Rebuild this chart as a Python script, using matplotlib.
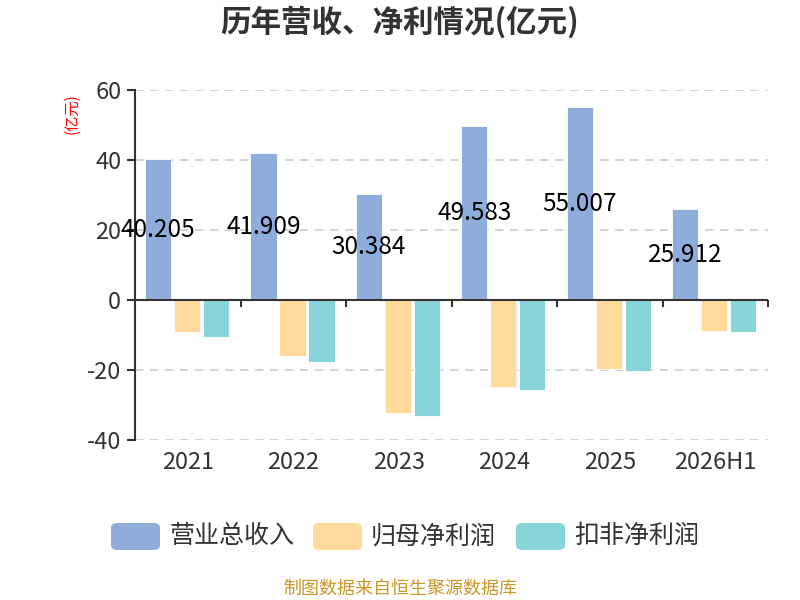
import matplotlib
matplotlib.use("Agg")
import matplotlib.pyplot as plt
from matplotlib.patches import FancyBboxPatch
import numpy as np

plt.rcParams['font.family'] = ['Noto Sans CJK SC', 'DejaVu Sans']

categories = ["2021", "2022", "2023", "2024", "2025", "2026H1"]
revenue = [40.205, 41.909, 30.384, 49.583, 55.007, 25.912]
net_profit = [-9.2, -15.9, -32.3, -25.0, -19.6, -8.9]
deducted_profit = [-10.6, -17.6, -33.2, -25.7, -20.3, -9.1]
series_names = ["营业总收入", "归母净利润", "扣非净利润"]
yticks = [-40, -20, 0, 20, 40, 60]

colors = ["#8EADDB", "#FFDA9B", "#88D5D9"]
text_color = "#333333"

fig = plt.figure(figsize=(8, 6), dpi=100)
ax = fig.add_axes([0.169, 0.2667, 0.791, 0.5833])

x = np.arange(len(categories))
w = 0.25
step = 0.275
for i, (vals, c) in enumerate(zip([revenue, net_profit, deducted_profit], colors)):
    ax.bar(x + (i - 1) * step - 0.01, vals, width=w, color=c, edgecolor="white",
           linewidth=0.6, zorder=3)

for xi, v in zip(x, revenue):
    ax.text(xi - step - 0.01, v / 2, f"{v:.3f}", ha="center", va="center",
            fontsize=17.5, color="black", zorder=5)

ax.set_xlim(-0.5, len(categories) - 0.5)
ax.set_ylim(-40, 60)
ax.set_yticks(yticks)
ax.set_yticklabels([str(t) for t in yticks], fontsize=17, color=text_color)
for t in yticks:
    if t != 0:
        ax.axhline(t, color="#cccccc", linestyle=(0, (5, 4)), linewidth=1.2, zorder=1)
ax.axhline(0, color=text_color, linewidth=1.5, zorder=4)
bounds = np.arange(len(categories)) + 0.5
ax.vlines(bounds, -2.0, 0, color=text_color, linewidth=1.5, zorder=4, clip_on=False)

ax.set_xticks(x)
ax.set_xticklabels(categories, fontsize=17, color=text_color)
ax.tick_params(axis="x", length=0, pad=8)
ax.tick_params(axis="y", length=6, width=1.5, color=text_color, pad=4)

for s in ["top", "right", "bottom"]:
    ax.spines[s].set_visible(False)
ax.spines["left"].set_color(text_color)
ax.spines["left"].set_linewidth(1.5)

fig.text(0.5, 0.962, "历年营收、净利情况(亿元)", ha="center", va="center",
         fontsize=22, fontweight="bold", color=text_color)
fig.text(0.09, 0.81, "(亿元)", ha="center", va="center", rotation=90,
         fontsize=11, color="red")

# legend
lx = [111, 313, 516]
for (px, name, c) in zip(lx, series_names, colors):
    box = FancyBboxPatch((px / 800, 1 - 550 / 600), 49 / 800, 27 / 600,
                         boxstyle="round,pad=0,rounding_size=0.008",
                         transform=fig.transFigure, facecolor=c, edgecolor="none")
    fig.patches.append(box)
    fig.text((px + 58) / 800, 1 - 536 / 600, name, ha="left", va="center",
             fontsize=18, color=text_color)

fig.text(0.5, 1 - 589 / 600, "制图数据来自恒生聚源数据库", ha="center", va="center",
         fontsize=13, color="#C9962A")

fig.savefig("out.png", dpi=100)
